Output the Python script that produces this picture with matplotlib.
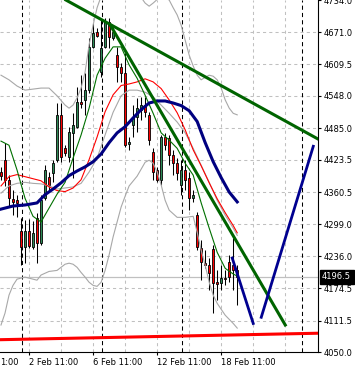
import matplotlib
matplotlib.use("Agg")
import matplotlib.pyplot as plt
import matplotlib.transforms as mtransforms
import numpy as np

# candles, one per bar (bar 0 = left edge of the chart)
opens = [4400, 4424, 4385, 4348, 4346, 4286, 4255, 4286, 4255, 4311,
         4262, 4350, 4391, 4398, 4424, 4511, 4447, 4430, 4476, 4488,
         4536, 4540, 4560, 4643, 4672, 4595, 4643, 4692, 4661, 4628,
         4604, 4593, 4455, 4492, 4507, 4521, 4531, 4511, 4439, 4404,
         4385, 4468, 4466, 4433, 4418, 4375, 4404, 4389, 4350, 4317,
         4253, 4224, 4220, 4251, 4187, 4185, 4194, 4226, 4220, 4210]
highs = [4410, 4457, 4395, 4365, 4356, 4311, 4307, 4309, 4305, 4321,
         4356, 4414, 4400, 4424, 4534, 4534, 4453, 4488, 4515, 4566,
         4589, 4593, 4661, 4690, 4680, 4696, 4700, 4700, 4682, 4643,
         4612, 4632, 4468, 4531, 4544, 4546, 4546, 4517, 4447, 4410,
         4472, 4476, 4472, 4443, 4428, 4424, 4424, 4400, 4365, 4323,
         4268, 4249, 4233, 4259, 4210, 4220, 4210, 4239, 4272, 4220]
lows = [4385, 4373, 4334, 4317, 4313, 4220, 4224, 4253, 4251, 4224,
        4259, 4346, 4365, 4381, 4420, 4420, 4431, 4420, 4389, 4486,
        4525, 4511, 4554, 4641, 4663, 4585, 4641, 4641, 4657, 4575,
        4575, 4449, 4443, 4468, 4478, 4501, 4507, 4453, 4385, 4381,
        4375, 4443, 4414, 4395, 4385, 4356, 4365, 4327, 4342, 4249,
        4191, 4214, 4171, 4126, 4152, 4171, 4181, 4187, 4171, 4142]
closes = [4393, 4385, 4350, 4342, 4340, 4255, 4286, 4257, 4282, 4262,
          4346, 4404, 4375, 4418, 4511, 4430, 4437, 4478, 4492, 4536,
          4532, 4560, 4643, 4670, 4665, 4641, 4692, 4663, 4672, 4604,
          4593, 4453, 4459, 4507, 4525, 4531, 4517, 4463, 4400, 4385,
          4468, 4453, 4433, 4418, 4398, 4404, 4385, 4350, 4356, 4255,
          4226, 4220, 4204, 4185, 4183, 4194, 4193, 4196, 4210, 4196.5]

# indicators
fast_bars = list(range(0, 60, 2)) + [59]
fast_ma = [4460, 4452, 4404, 4349, 4314, 4303, 4330, 4357, 4380, 4427,
           4472, 4524, 4588, 4621, 4643, 4643, 4608, 4582, 4549, 4514,
           4476, 4462, 4446, 4417, 4394, 4340, 4291, 4244, 4213, 4202, 4198]

red_bars = [0, 2, 4, 7, 10, 12, 14, 16, 18, 20, 22, 24, 26, 28, 30,
            32, 34, 36, 38, 40, 42, 44, 46, 48, 50, 52, 54, 56, 58, 59]
red_ma = [4373, 4391, 4395, 4389, 4383, 4371, 4364, 4362, 4369, 4385,
          4424, 4468, 4517, 4550, 4568, 4571, 4575, 4581, 4575, 4562,
          4540, 4515, 4482, 4443, 4412, 4379, 4348, 4321, 4296, 4282]

slow_bars = [0, 3, 6, 9, 11, 13, 15, 17, 19, 21, 23, 25, 27, 29, 31,
             33, 35, 37, 39, 41, 43, 45, 47, 49, 51, 53, 55, 57, 59]
slow_ma = [4328, 4334, 4336, 4340, 4356, 4367, 4379, 4393, 4402, 4410,
           4420, 4435, 4457, 4476, 4488, 4505, 4521, 4534, 4538, 4538,
           4534, 4529, 4519, 4498, 4457, 4420, 4389, 4361, 4342]

mid_bars = list(range(0, 60, 2)) + [59]
band_mid = [4359, 4373, 4378, 4380, 4378, 4377, 4373, 4367, 4369, 4371,
            4378, 4400, 4427, 4472, 4516, 4548, 4559, 4559, 4555, 4546,
            4530, 4514, 4497, 4476, 4446, 4413, 4380, 4345, 4316, 4291, 4277]

up_bars = [0, 2, 4, 6, 8, 10, 12, 14, 16, 17, 18, 19, 20, 21, 22, 23, 24,
           26, 28, 30, 32, 34, 36, 37, 38, 40, 42, 43, 44, 45, 46, 47, 48, 49,
           50, 51, 52, 53, 54, 55, 56, 57, 58, 59]
band_up = [4588, 4579, 4567, 4559, 4561, 4563, 4563, 4548, 4530, 4524, 4530,
           4544, 4563, 4594, 4647, 4685, 4719, 4763, 4783, 4783, 4769, 4750,
           4728, 4722, 4728, 4742, 4734, 4719, 4705, 4685, 4656, 4627, 4606,
           4588, 4579, 4584, 4588, 4586, 4579, 4563, 4540, 4524, 4514, 4511]

low_bars = [0, 1, 2, 3, 4, 6, 8, 9, 10, 12, 14, 16, 17, 18, 19, 20, 21, 22,
            23, 24, 25, 26, 27, 28, 29, 30, 31, 32, 34, 36, 37, 38, 39, 40,
            41, 42, 44, 46, 48, 49, 50, 51, 52, 53, 54, 56, 58, 59]
band_low = [4103, 4126, 4161, 4180, 4192, 4196, 4192, 4190, 4200, 4207, 4209,
            4221, 4223, 4221, 4215, 4205, 4196, 4186, 4180, 4178, 4186, 4209,
            4239, 4274, 4303, 4332, 4353, 4373, 4392, 4419, 4423, 4417, 4400,
            4375, 4345, 4326, 4312, 4312, 4314, 4283, 4248, 4219, 4186, 4161,
            4145, 4122, 4106, 4097]

# drawn objects: (bar, price) anchor points
trend_a = [(26, 4692), (75, 4482)]
trend_b = [(27.25, 4686), (71, 4103)]
support = [(0, 4074.5), (79, 4087)]
proj_down = [(57.75, 4233), (63, 4106)]
proj_up = [(65, 4118), (78, 4450)]
separators = [5, 25, 45, 75]
last_price = 4196.5

price_ticks = [4050.0, 4111.5, 4174.5, 4236.0, 4299.0, 4360.5,
               4423.5, 4485.0, 4548.0, 4609.5, 4671.0, 4734.0]
time_ticks = [7, 23, 39, 55]
time_labels = ["2 Feb 11:00", "6 Feb 11:00", "12 Feb 11:00", "18 Feb 11:00"]

fig = plt.figure(figsize=(3.55, 3.69), dpi=100)
ax = fig.add_axes([0, 16.7 / 369, 318.3 / 355, 352.3 / 369])
ax.set_xlim(-0.25, 79.25)
ax.set_ylim(4050, 4734)

# grid
for p in price_ticks[1:-1]:
    ax.axhline(p, color="#c0c0c0", lw=0.75, ls=(0, (3, 3)), zorder=0)
for b in range(7, 79, 8):
    ax.axvline(b, color="#c0c0c0", lw=0.75, ls=(0, (3, 3)), zorder=0)
for b in separators:
    ax.axvline(b + 0.15, color="black", lw=0.75, ls=(0, (4, 3)), zorder=0.5)
ax.axhline(last_price, color="#c0c0c0", lw=0.9, zorder=0.6)

# candles
x = np.arange(len(opens))
o = np.array(opens, dtype=float)
c = np.array(closes, dtype=float)
ax.vlines(x, lows, highs, color="black", lw=0.75, zorder=2)
up = c >= o
body = np.maximum(np.abs(c - o), 1.0)
ax.bar(x, body, bottom=np.minimum(o, c), width=0.6,
       color=np.where(up, "#2e8b57", "#ff0000"),
       edgecolor="black", linewidth=0.6, zorder=3)

# indicators
ax.plot(up_bars, band_up, color="#a8a8a8", lw=0.8, zorder=4)
ax.plot(low_bars, band_low, color="#a8a8a8", lw=0.8, zorder=4)
ax.plot(mid_bars, band_mid, color="#a8a8a8", lw=0.8, zorder=4)
ax.plot(red_bars, red_ma, color="#ff0000", lw=0.8, zorder=5)
ax.plot(fast_bars, fast_ma, color="#007000", lw=0.8, zorder=5)
ax.plot(slow_bars, slow_ma, color="#000080", lw=2.2, zorder=5)

# objects
ax.axline(trend_a[0], trend_a[1], color="#006400", lw=2.2, zorder=6)
ax.plot(*zip(*trend_b), color="#006400", lw=2.2, zorder=6)
ax.axline(support[0], support[1], color="#ff0000", lw=2.2, zorder=6)
ax.plot(*zip(*proj_down), color="#000090", lw=2.0, zorder=6)
ax.plot(*zip(*proj_up), color="#000090", lw=2.0, zorder=6)

# axes look
for s in ["left", "top"]:
    ax.spines[s].set_visible(False)
for s in ["right", "bottom"]:
    ax.spines[s].set_linewidth(0.8)
ax.yaxis.tick_right()
ax.set_yticks(price_ticks)
ax.set_yticklabels(["%.1f" % p for p in price_ticks])
ax.set_xticks(time_ticks)
ax.set_xticklabels(time_labels, ha="left")
ax.tick_params(axis="y", length=2.5, width=0.8, pad=1.5, labelsize=6)
ax.tick_params(axis="x", length=2.5, width=0.8, pad=1.5, labelsize=6)
for lbl in ax.get_xticklabels():
    lbl.set_x(-0.3)
ax.text(-0.25, -0.028, "1:00", transform=mtransforms.blended_transform_factory(ax.transData, ax.transAxes),
        ha="left", va="center", fontsize=6)

trans = mtransforms.blended_transform_factory(ax.transAxes, ax.transData)
ax.text(1.012, last_price, "%.1f" % last_price, transform=trans, color="white",
        fontsize=6, va="center", ha="left", zorder=10, clip_on=False,
        bbox=dict(boxstyle="square,pad=0.3", fc="black", ec="black"))

fig.savefig("out.png", dpi=100)
